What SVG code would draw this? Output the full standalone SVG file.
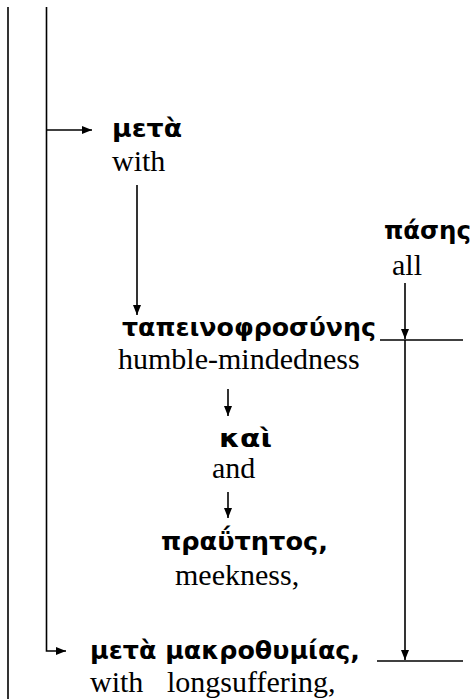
<svg xmlns="http://www.w3.org/2000/svg" width="475" height="699" viewBox="0 0 475 699">
<style>
.gk{font-family:"DejaVu Sans","Noto Sans",sans-serif;font-weight:bold;font-size:24px;fill:#000}
.en{font-family:"Liberation Serif","Times New Roman",serif;font-size:30px;fill:#000}
.ln{stroke:#000;stroke-width:1.6;fill:none}
.ar{stroke:#000;stroke-width:1.6;fill:none;marker-end:url(#ah)}
</style>
<defs>
<marker id="ah" viewBox="0 0 10 8" refX="10" refY="4" markerWidth="10" markerHeight="8" markerUnits="userSpaceOnUse" orient="auto">
<path d="M0,0 L10,4 L0,8 Z" fill="#000"/>
</marker>
</defs>
<g id="connectors">
<line class="ln" x1="8" y1="7" x2="8" y2="699"/>
<path class="ar" d="M46.5,7 V651 H66"/>
<line class="ar" x1="46.5" y1="130" x2="92" y2="130"/>
<line class="ar" x1="137" y1="185" x2="137" y2="315"/>
<line class="ar" x1="405" y1="283" x2="405" y2="339"/>
<line class="ln" x1="380" y1="340" x2="463" y2="340"/>
<line class="ar" x1="405" y1="340" x2="405" y2="660"/>
<line class="ln" x1="377" y1="661" x2="463" y2="661"/>
<line class="ar" x1="228" y1="389" x2="228" y2="416"/>
<line class="ar" x1="228" y1="492" x2="228" y2="518"/>
</g>
<g id="meta1">
<text class="gk" x="112" y="137" textLength="70" lengthAdjust="spacingAndGlyphs">μετὰ</text>
<text class="en" x="112" y="171">with</text>
</g>
<g id="pases">
<text class="gk" x="384" y="239" textLength="87" lengthAdjust="spacingAndGlyphs">πάσης</text>
<text class="en" x="392" y="275">all</text>
</g>
<g id="tapeino">
<text class="gk" x="122" y="336" textLength="254" lengthAdjust="spacingAndGlyphs">ταπεινοφροσύνης</text>
<text class="en" x="118" y="369">humble-mindedness</text>
</g>
<g id="kai">
<text class="gk" x="219" y="447" textLength="53" lengthAdjust="spacingAndGlyphs">καὶ</text>
<text class="en" x="212" y="478">and</text>
</g>
<g id="prautetos">
<text class="gk" x="161" y="550" textLength="167" lengthAdjust="spacingAndGlyphs">πραΰτητος,</text>
<text class="en" x="175" y="585">meekness,</text>
</g>
<g id="meta2">
<text class="gk" x="90" y="659" textLength="270" lengthAdjust="spacingAndGlyphs">μετὰ μακροθυμίας,</text>
<text class="en" x="90" y="692">with<tspan x="167">longsuffering,</tspan></text>
</g>
</svg>
